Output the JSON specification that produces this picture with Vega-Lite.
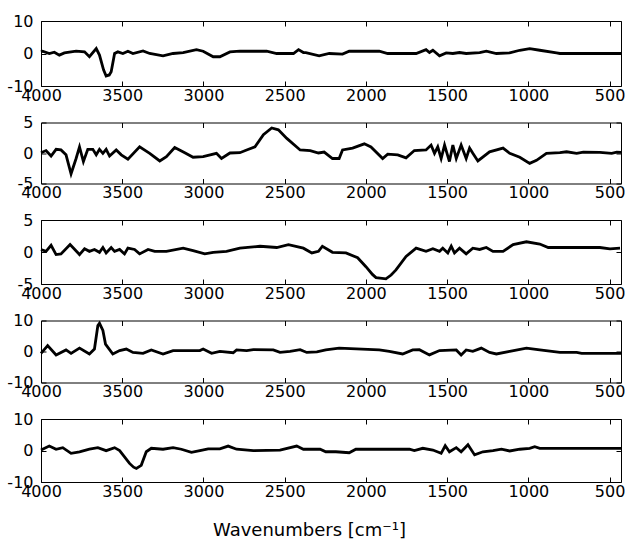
{
  "$schema": "https://vega.github.io/schema/vega-lite/v6.json",
  "padding": {"left": 6, "top": 12, "right": 5, "bottom": 0},
  "background": "white",
  "config": {
    "font": "DejaVu Sans",
    "view": {"stroke": "black", "strokeWidth": 1},
    "axis": {"domain": false, "grid": false, "ticks": true, "tickColor": "black", "tickSize": -5, "tickWidth": 1,
             "labelColor": "black", "labelFont": "DejaVu Sans", "labelFontSize": 16, "title": null,
             "titleFont": "DejaVu Sans", "titleFontSize": 18, "titleFontWeight": "normal", "titleColor": "black"}
  },
  "datasets": {
    "p1": [{"w":4000,"v":0.5},{"w":3990,"v":0.7},{"w":3949,"v":0},{"w":3918,"v":0.4},{"w":3887,"v":-0.5},{"w":3856,"v":0.2},{"w":3784,"v":0.7},{"w":3732,"v":0.5},{"w":3702,"v":-1},{"w":3660,"v":1.5},{"w":3640,"v":-0.5},{"w":3615,"v":-5.0},{"w":3599,"v":-6.9},{"w":3580,"v":-6.6},{"w":3568,"v":-5.6},{"w":3547,"v":0},{"w":3527,"v":0.5},{"w":3496,"v":0},{"w":3465,"v":0.7},{"w":3434,"v":0},{"w":3372,"v":0.8},{"w":3331,"v":0},{"w":3249,"v":-0.7},{"w":3187,"v":0},{"w":3125,"v":0.3},{"w":3043,"v":1.2},{"w":3002,"v":0.7},{"w":2940,"v":-1},{"w":2899,"v":-1},{"w":2837,"v":0.5},{"w":2776,"v":0.7},{"w":2611,"v":0.7},{"w":2549,"v":0},{"w":2446,"v":0},{"w":2415,"v":1.2},{"w":2385,"v":0.3},{"w":2370,"v":0.3},{"w":2288,"v":-0.7},{"w":2226,"v":0},{"w":2144,"v":-0.2},{"w":2103,"v":0.7},{"w":1918,"v":0.7},{"w":1866,"v":0},{"w":1691,"v":0},{"w":1630,"v":1.2},{"w":1609,"v":0.3},{"w":1588,"v":1.0},{"w":1547,"v":-0.7},{"w":1506,"v":0.2},{"w":1465,"v":0},{"w":1424,"v":0.3},{"w":1383,"v":0},{"w":1300,"v":0.3},{"w":1259,"v":0.7},{"w":1197,"v":0},{"w":1115,"v":0.2},{"w":1053,"v":1.0},{"w":992,"v":1.5},{"w":930,"v":1.0},{"w":827,"v":0.2},{"w":806,"v":0},{"w":430,"v":0}],
    "p2": [{"w":4000,"v":0.05},{"w":3969,"v":0.4},{"w":3938,"v":-0.5},{"w":3907,"v":0.6},{"w":3877,"v":0.5},{"w":3846,"v":-0.3},{"w":3815,"v":-3.4},{"w":3784,"v":-0.9},{"w":3763,"v":1.0},{"w":3739,"v":-1.4},{"w":3712,"v":0.6},{"w":3681,"v":0.6},{"w":3660,"v":-0.3},{"w":3640,"v":0.6},{"w":3619,"v":-0.05},{"w":3599,"v":0.6},{"w":3578,"v":-0.5},{"w":3537,"v":0.5},{"w":3506,"v":-0.3},{"w":3465,"v":-1.0},{"w":3393,"v":1.0},{"w":3331,"v":-0.05},{"w":3269,"v":-1.3},{"w":3228,"v":-0.6},{"w":3177,"v":0.9},{"w":3115,"v":0.05},{"w":3064,"v":-0.7},{"w":3002,"v":-0.6},{"w":2920,"v":-0.05},{"w":2889,"v":-0.9},{"w":2837,"v":0},{"w":2776,"v":0.05},{"w":2734,"v":0.5},{"w":2683,"v":1.0},{"w":2631,"v":3.0},{"w":2580,"v":4.1},{"w":2539,"v":3.8},{"w":2487,"v":2.4},{"w":2405,"v":0.5},{"w":2343,"v":0.4},{"w":2292,"v":0},{"w":2257,"v":0.15},{"w":2206,"v":-0.9},{"w":2165,"v":-0.9},{"w":2144,"v":0.5},{"w":2082,"v":0.8},{"w":2010,"v":1.5},{"w":1969,"v":1.0},{"w":1897,"v":-0.9},{"w":1866,"v":-0.2},{"w":1804,"v":-0.3},{"w":1753,"v":-0.8},{"w":1702,"v":0.4},{"w":1630,"v":0.5},{"w":1599,"v":1.3},{"w":1578,"v":-0.05},{"w":1558,"v":1.0},{"w":1537,"v":-0.9},{"w":1516,"v":1.3},{"w":1486,"v":-1.4},{"w":1465,"v":1.3},{"w":1444,"v":-0.9},{"w":1414,"v":1.3},{"w":1383,"v":-0.9},{"w":1362,"v":0.8},{"w":1342,"v":-0.05},{"w":1311,"v":-1.3},{"w":1239,"v":0.2},{"w":1156,"v":0.8},{"w":1115,"v":-0.05},{"w":1053,"v":-0.7},{"w":992,"v":-1.7},{"w":950,"v":-1.2},{"w":889,"v":-0.05},{"w":806,"v":0.05},{"w":765,"v":0.2},{"w":703,"v":-0.05},{"w":662,"v":0.15},{"w":560,"v":0.1},{"w":487,"v":-0.05},{"w":456,"v":0.15},{"w":430,"v":0.1}],
    "p3": [{"w":4000,"v":0.4},{"w":3969,"v":0.1},{"w":3938,"v":1.05},{"w":3907,"v":-0.4},{"w":3877,"v":-0.3},{"w":3821,"v":1.15},{"w":3763,"v":-0.4},{"w":3732,"v":0.5},{"w":3702,"v":0.1},{"w":3671,"v":0.4},{"w":3640,"v":-0.05},{"w":3619,"v":0.7},{"w":3599,"v":-0.15},{"w":3568,"v":0.7},{"w":3547,"v":0.1},{"w":3516,"v":0.4},{"w":3486,"v":-0.3},{"w":3465,"v":0.6},{"w":3424,"v":0.4},{"w":3393,"v":-0.3},{"w":3341,"v":0.4},{"w":3300,"v":0.1},{"w":3228,"v":0.1},{"w":3125,"v":0.6},{"w":3064,"v":0.2},{"w":2992,"v":-0.3},{"w":2940,"v":-0.05},{"w":2858,"v":0.1},{"w":2776,"v":0.6},{"w":2652,"v":0.9},{"w":2549,"v":0.7},{"w":2477,"v":1.15},{"w":2385,"v":0.6},{"w":2333,"v":-0.15},{"w":2292,"v":0.1},{"w":2268,"v":0.9},{"w":2206,"v":-0.05},{"w":2123,"v":-0.15},{"w":2051,"v":-0.9},{"w":2000,"v":-2.3},{"w":1960,"v":-3.5},{"w":1938,"v":-4.0},{"w":1877,"v":-4.2},{"w":1845,"v":-3.6},{"w":1815,"v":-2.8},{"w":1753,"v":-0.7},{"w":1691,"v":0.6},{"w":1630,"v":0.1},{"w":1588,"v":0.5},{"w":1547,"v":0.1},{"w":1527,"v":0.6},{"w":1496,"v":-0.15},{"w":1475,"v":0.9},{"w":1455,"v":-0.15},{"w":1424,"v":0.6},{"w":1383,"v":-0.3},{"w":1342,"v":0.6},{"w":1300,"v":0.4},{"w":1259,"v":0.7},{"w":1218,"v":0.1},{"w":1156,"v":0.1},{"w":1094,"v":1.15},{"w":1012,"v":1.6},{"w":930,"v":1.25},{"w":878,"v":0.7},{"w":765,"v":0.7},{"w":560,"v":0.7},{"w":498,"v":0.5},{"w":436,"v":0.6}],
    "p4": [{"w":4000,"v":-0.6},{"w":3959,"v":1.9},{"w":3907,"v":-1.1},{"w":3846,"v":0.5},{"w":3815,"v":-0.6},{"w":3763,"v":1.1},{"w":3702,"v":-0.8},{"w":3671,"v":0.8},{"w":3650,"v":8.4},{"w":3640,"v":9.1},{"w":3619,"v":6.8},{"w":3603,"v":2.4},{"w":3558,"v":-0.8},{"w":3516,"v":0.3},{"w":3475,"v":0.8},{"w":3434,"v":-0.3},{"w":3372,"v":-0.6},{"w":3321,"v":0.5},{"w":3249,"v":-0.8},{"w":3187,"v":0.3},{"w":3022,"v":0.3},{"w":3002,"v":0.8},{"w":2950,"v":-0.6},{"w":2899,"v":0.05},{"w":2817,"v":-0.4},{"w":2796,"v":0.5},{"w":2734,"v":0.3},{"w":2693,"v":0.6},{"w":2570,"v":0.5},{"w":2529,"v":-0.3},{"w":2467,"v":0.05},{"w":2405,"v":0.6},{"w":2364,"v":-0.3},{"w":2302,"v":-0.15},{"w":2247,"v":0.5},{"w":2165,"v":1.1},{"w":1918,"v":0.5},{"w":1856,"v":0.05},{"w":1774,"v":-0.8},{"w":1712,"v":0.5},{"w":1671,"v":0.6},{"w":1609,"v":-1.1},{"w":1547,"v":0.3},{"w":1444,"v":0.5},{"w":1414,"v":-1.1},{"w":1383,"v":0.5},{"w":1342,"v":0.05},{"w":1290,"v":1.1},{"w":1239,"v":-0.3},{"w":1197,"v":-0.8},{"w":1115,"v":0.05},{"w":1012,"v":1.1},{"w":930,"v":0.5},{"w":806,"v":-0.3},{"w":703,"v":-0.3},{"w":672,"v":-0.6},{"w":560,"v":-0.6},{"w":430,"v":-0.6}],
    "p5": [{"w":4000,"v":0.15},{"w":3949,"v":1.4},{"w":3907,"v":0.4},{"w":3866,"v":0.9},{"w":3815,"v":-0.9},{"w":3763,"v":-0.4},{"w":3702,"v":0.4},{"w":3650,"v":0.9},{"w":3599,"v":-0.05},{"w":3547,"v":0.9},{"w":3516,"v":-0.05},{"w":3486,"v":-2.0},{"w":3455,"v":-4.1},{"w":3430,"v":-5.3},{"w":3413,"v":-5.7},{"w":3383,"v":-4.7},{"w":3352,"v":-0.4},{"w":3321,"v":0.7},{"w":3249,"v":0.4},{"w":3187,"v":0.9},{"w":3136,"v":0.4},{"w":3074,"v":-0.6},{"w":3022,"v":-0.05},{"w":2971,"v":0.5},{"w":2899,"v":0.5},{"w":2848,"v":1.4},{"w":2796,"v":0.4},{"w":2693,"v":-0.05},{"w":2529,"v":0.15},{"w":2426,"v":1.4},{"w":2385,"v":0.4},{"w":2282,"v":0.4},{"w":2247,"v":-0.4},{"w":2185,"v":-0.4},{"w":2103,"v":-0.7},{"w":2062,"v":0.4},{"w":1732,"v":0.4},{"w":1702,"v":-0.05},{"w":1650,"v":0.7},{"w":1588,"v":0.15},{"w":1537,"v":-0.9},{"w":1512,"v":1.5},{"w":1486,"v":-0.4},{"w":1444,"v":0.9},{"w":1414,"v":-0.4},{"w":1372,"v":1.8},{"w":1331,"v":-1.4},{"w":1280,"v":-0.4},{"w":1218,"v":-0.05},{"w":1166,"v":0.4},{"w":1115,"v":-0.15},{"w":1053,"v":0.4},{"w":992,"v":0.7},{"w":961,"v":1.2},{"w":930,"v":0.7},{"w":765,"v":0.7},{"w":430,"v":0.7}]
  },
  "bounds": "flush",
  "spacing": 36.5,
  "vconcat": [
    {"data": {"name": "p1"}, "width": 580, "height": 65,
     "layer": [
       {"mark": {"type": "line", "color": "black", "strokeWidth": 2.8},
        "encoding": {
          "x": {"field": "w", "type": "quantitative", "scale": {"domain": [430, 4000], "reverse": true, "nice": false, "zero": false},
                "axis": {"orient": "bottom", "values": [4000, 3500, 3000, 2500, 2000, 1500, 1000, 500], "labelPadding": 6, "labelExpr": "'' + datum.value", "labelFlush": false}},
          "y": {"field": "v", "type": "quantitative", "scale": {"domain": [-10, 10], "nice": false},
                "axis": {"orient": "left", "values": [-10, 0, 10], "labelPadding": 13, "labelExpr": "'' + datum.value", "labelFlush": false}}}},
       {"mark": {"type": "line", "opacity": 0},
        "encoding": {
          "x": {"field": "w", "type": "quantitative", "axis": {"orient": "top", "values": [4000, 3500, 3000, 2500, 2000, 1500, 1000, 500], "labels": false}},
          "y": {"field": "v", "type": "quantitative", "axis": {"orient": "right", "values": [-10, 0, 10], "labels": false}}}}
     ],
     "resolve": {"axis": {"x": "independent", "y": "independent"}}},
    {"data": {"name": "p2"}, "width": 580, "height": 61,
     "layer": [
       {"mark": {"type": "line", "color": "black", "strokeWidth": 2.8},
        "encoding": {
          "x": {"field": "w", "type": "quantitative", "scale": {"domain": [430, 4000], "reverse": true, "nice": false, "zero": false},
                "axis": {"orient": "bottom", "values": [4000, 3500, 3000, 2500, 2000, 1500, 1000, 500], "labelPadding": 6, "labelExpr": "'' + datum.value", "labelFlush": false}},
          "y": {"field": "v", "type": "quantitative", "scale": {"domain": [-5, 5], "nice": false},
                "axis": {"orient": "left", "values": [-5, 0, 5], "labelPadding": 13, "labelExpr": "'' + datum.value", "labelFlush": false}}}},
       {"mark": {"type": "line", "opacity": 0},
        "encoding": {
          "x": {"field": "w", "type": "quantitative", "axis": {"orient": "top", "values": [4000, 3500, 3000, 2500, 2000, 1500, 1000, 500], "labels": false}},
          "y": {"field": "v", "type": "quantitative", "axis": {"orient": "right", "values": [-5, 0, 5], "labels": false}}}}
     ],
     "resolve": {"axis": {"x": "independent", "y": "independent"}}},
    {"data": {"name": "p3"}, "width": 580, "height": 64,
     "layer": [
       {"mark": {"type": "line", "color": "black", "strokeWidth": 2.8},
        "encoding": {
          "x": {"field": "w", "type": "quantitative", "scale": {"domain": [430, 4000], "reverse": true, "nice": false, "zero": false},
                "axis": {"orient": "bottom", "values": [4000, 3500, 3000, 2500, 2000, 1500, 1000, 500], "labelPadding": 6, "labelExpr": "'' + datum.value", "labelFlush": false}},
          "y": {"field": "v", "type": "quantitative", "scale": {"domain": [-5, 5], "nice": false},
                "axis": {"orient": "left", "values": [-5, 0, 5], "labelPadding": 13, "labelExpr": "'' + datum.value", "labelFlush": false}}}},
       {"mark": {"type": "line", "opacity": 0},
        "encoding": {
          "x": {"field": "w", "type": "quantitative", "axis": {"orient": "top", "values": [4000, 3500, 3000, 2500, 2000, 1500, 1000, 500], "labels": false}},
          "y": {"field": "v", "type": "quantitative", "axis": {"orient": "right", "values": [-5, 0, 5], "labels": false}}}}
     ],
     "resolve": {"axis": {"x": "independent", "y": "independent"}}},
    {"data": {"name": "p4"}, "width": 580, "height": 62,
     "layer": [
       {"mark": {"type": "line", "color": "black", "strokeWidth": 2.8},
        "encoding": {
          "x": {"field": "w", "type": "quantitative", "scale": {"domain": [430, 4000], "reverse": true, "nice": false, "zero": false},
                "axis": {"orient": "bottom", "values": [4000, 3500, 3000, 2500, 2000, 1500, 1000, 500], "labelPadding": 6, "labelExpr": "'' + datum.value", "labelFlush": false}},
          "y": {"field": "v", "type": "quantitative", "scale": {"domain": [-10, 10], "nice": false},
                "axis": {"orient": "left", "values": [-10, 0, 10], "labelPadding": 13, "labelExpr": "'' + datum.value", "labelFlush": false}}}},
       {"mark": {"type": "line", "opacity": 0},
        "encoding": {
          "x": {"field": "w", "type": "quantitative", "axis": {"orient": "top", "values": [4000, 3500, 3000, 2500, 2000, 1500, 1000, 500], "labels": false}},
          "y": {"field": "v", "type": "quantitative", "axis": {"orient": "right", "values": [-10, 0, 10], "labels": false}}}}
     ],
     "resolve": {"axis": {"x": "independent", "y": "independent"}}},
    {"data": {"name": "p5"}, "width": 580, "height": 63,
     "layer": [
       {"mark": {"type": "line", "color": "black", "strokeWidth": 2.8},
        "encoding": {
          "x": {"field": "w", "type": "quantitative", "scale": {"domain": [430, 4000], "reverse": true, "nice": false, "zero": false},
                "axis": {"orient": "bottom", "values": [4000, 3500, 3000, 2500, 2000, 1500, 1000, 500], "labelPadding": 6, "labelExpr": "'' + datum.value", "labelFlush": false,
                         "title": "Wavenumbers [cm⁻¹]", "titlePadding": 22, "titleX": 268, "titleAlign": "center"}},
          "y": {"field": "v", "type": "quantitative", "scale": {"domain": [-10, 10], "nice": false},
                "axis": {"orient": "left", "values": [-10, 0, 10], "labelPadding": 13, "labelExpr": "'' + datum.value", "labelFlush": false}}}},
       {"mark": {"type": "line", "opacity": 0},
        "encoding": {
          "x": {"field": "w", "type": "quantitative", "axis": {"orient": "top", "values": [4000, 3500, 3000, 2500, 2000, 1500, 1000, 500], "labels": false}},
          "y": {"field": "v", "type": "quantitative", "axis": {"orient": "right", "values": [-10, 0, 10], "labels": false}}}}
     ],
     "resolve": {"axis": {"x": "independent", "y": "independent"}}}
  ]
}
